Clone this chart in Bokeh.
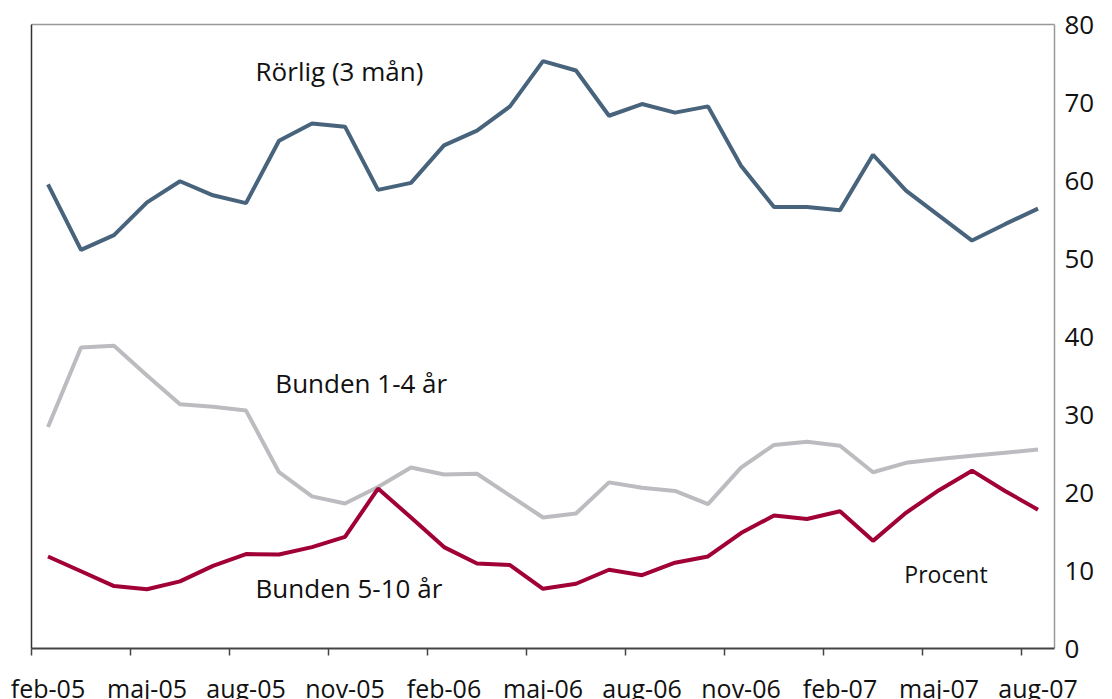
from bokeh.plotting import figure
from bokeh.models import Range1d, Label
from bokeh.core.properties import value
from bokeh.embed import file_html
from bokeh.resources import INLINE

months = ["feb-05", "mar-05", "apr-05", "maj-05", "jun-05", "jul-05", "aug-05", "sep-05", "okt-05", "nov-05",
          "dec-05", "jan-06", "feb-06", "mar-06", "apr-06", "maj-06", "jun-06", "jul-06", "aug-06", "sep-06",
          "okt-06", "nov-06", "dec-06", "jan-07", "feb-07", "mar-07", "apr-07", "maj-07", "jun-07", "jul-07", "aug-07"]

rorlig = [59.5, 51.1, 53.0, 57.2, 59.9, 58.1, 57.1, 65.1, 67.3, 66.9,
          58.8, 59.7, 64.5, 66.4, 69.5, 75.3, 74.1, 68.3, 69.8, 68.7,
          69.5, 61.9, 56.6, 56.6, 56.2, 63.3, 58.7, 55.5, 52.3, 54.4, 56.4]

bunden_1_4 = [28.4, 38.6, 38.8, 35.0, 31.3, 31.0, 30.5, 22.6, 19.5, 18.6,
              20.7, 23.2, 22.3, 22.4, 19.6, 16.8, 17.3, 21.3, 20.6, 20.2,
              18.5, 23.2, 26.1, 26.5, 26.0, 22.6, 23.8, 24.3, 24.7, 25.1, 25.5]

bunden_5_10 = [11.8, 9.9, 8.0, 7.6, 8.6, 10.6, 12.1, 12.05, 13.0, 14.3,
               20.5, 16.8, 13.0, 10.9, 10.7, 7.65, 8.3, 10.1, 9.4, 11.0,
               11.8, 14.8, 17.05, 16.6, 17.6, 13.8, 17.4, 20.3, 22.8, 20.2, 17.8]

y_ticks = [0, 10, 20, 30, 40, 50, 60, 70, 80]
y_max = 80

FONT = "Open Sans"
n = len(months)
xs = [i + 0.5 for i in range(n)]

# layout (pixels): plot box inside the canvas
W, H = 1104, 699
LEFT, RIGHT, TOP, BOTTOM = 31, 50, 24, 51
PXX = (W - LEFT - RIGHT) / n
PXY = (H - TOP - BOTTOM) / y_max

p = figure(width=W, height=H, output_backend="svg", toolbar_location=None,
           x_range=Range1d(-LEFT / PXX, n + RIGHT / PXX),
           y_range=Range1d(-BOTTOM / PXY, y_max + TOP / PXY),
           x_axis_location=None, y_axis_location=None,
           min_border=0)
p.outline_line_color = None
p.grid.visible = False
p.background_fill_color = "white"
p.border_fill_color = "white"

# box: top and right grey, left and bottom dark
p.segment(x0=[0], y0=[y_max], x1=[n], y1=[y_max], line_color="#999999", line_width=1.5)
p.segment(x0=[n], y0=[0], x1=[n], y1=[y_max], line_color="#999999", line_width=1.5)
p.segment(x0=[0], y0=[0], x1=[0], y1=[y_max], line_color="#333333", line_width=1.5)
p.segment(x0=[0], y0=[0], x1=[n], y1=[0], line_color="#444444", line_width=2)

# bottom tick marks at quarter boundaries, month labels at month centres
qb = list(range(0, n, 3))
p.segment(x0=qb, y0=[0] * len(qb), x1=qb, y1=[-7 / PXY] * len(qb),
          line_color="#444444", line_width=1.5)
p.text(x=[i + 0.5 for i in qb], y=[-39 / PXY] * len(qb), text=[months[i] for i in qb],
       text_font=value(FONT), text_font_size="25px", text_color="#111111",
       text_align="center", text_baseline="middle")

# right-hand value labels
p.text(x=[n + 10 / PXX] * len(y_ticks), y=y_ticks, text=[str(t) for t in y_ticks],
       text_font=value(FONT), text_font_size="26px", text_color="#111111",
       text_align="left", text_baseline="middle")

p.line(xs, bunden_1_4, line_color="#bcbcc0", line_width=4)
p.line(xs, bunden_5_10, line_color="#a10036", line_width=4)
p.line(xs, rorlig, line_color="#48637c", line_width=4)

for txt, x, y, size in [("Rörlig (3 mån)", 6.79, 74.1, "26px"),
                        ("Bunden 1-4 år", 7.39, 34.0, "26px"),
                        ("Bunden 5-10 år", 6.79, 7.7, "26px"),
                        ("Procent", 26.45, 9.5, "23px")]:
    p.add_layout(Label(x=x, y=y, text=txt, text_font=FONT, text_font_size=size,
                       text_color="#111111", text_baseline="middle", text_align="left"))

open("out.html", "w").write(file_html(p, INLINE))
